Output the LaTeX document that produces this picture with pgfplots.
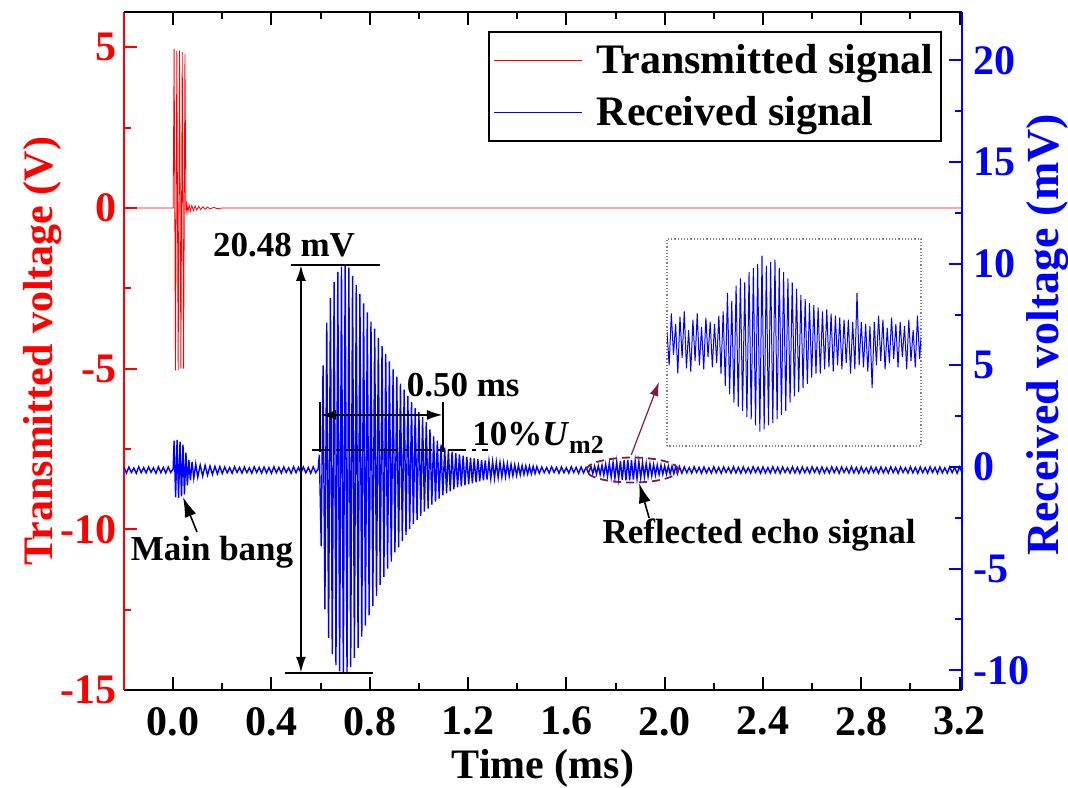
\documentclass[border=0pt]{standalone}
\usepackage{fontspec}
\setmainfont{Liberation Serif}
\usepackage{pgfplots}
\pgfplotsset{compat=1.18}
\usetikzlibrary{arrows.meta}
\definecolor{echoc}{RGB}{122,30,70}
\newcommand{\lf}{\fontsize{21}{25}\selectfont\bfseries}
\newcommand{\af}{\fontsize{17.5}{21}\selectfont\bfseries}

\pgfplotsset{
  mybase/.style={
    scale only axis, width=419pt, height=339pt,
    xmin=-0.2, xmax=3.21,
    tick align=inside,
    major tick length=6.5pt, minor tick length=3.5pt,
    xtick={0,0.4,0.8,1.2,1.6,2.0,2.4,2.8,3.2},
    minor x tick num=1, minor y tick num=1,
    ticklabel style={font=\lf},
    xtick style={black, line width=1pt},
    x axis line style={black, line width=1pt},
  }
}

\begin{document}
\begin{tikzpicture}
\useasboundingbox (-62pt,-48.5pt) rectangle (472pt,345pt);

% transmitted signal, left axis
\begin{axis}[mybase,
  ymin=-15, ymax=6.1,
  axis x line*=bottom, axis y line*=left,
  y axis line style={red, line width=1.2pt},
  ytick style={red, line width=1pt},
  ytick={-15,-10,-5,0,5}, yticklabels={-15,-10,-5,0,5},
  xticklabels={0.0,0.4,0.8,1.2,1.6,2.0,2.4,2.8,3.2},
  yticklabel style={red},
  xticklabel style={yshift=-5pt},
  xlabel={Time (ms)}, ylabel={Transmitted voltage (V)},
  xlabel style={font=\lf, at={(axis description cs:0.5,0)}, anchor=base, yshift=-44pt},
  ylabel style={font=\lf, red, at={([xshift=-40.5pt]axis description cs:0,0.5)}, anchor=center},
]
\addplot[red, line width=0.4pt] coordinates {
(-0.2,0)(0.0,0)(0.004,4.95)(0.0095,-5.05)(0.015,4.9)(0.0205,-5.05)(0.026,4.9)(0.0315,-5.0)
(0.037,4.85)(0.0425,-5.0)(0.048,4.8)(0.052,-0.2)(0.056,0.12)(0.060,-0.12)(0.065,0.1)(0.070,-0.1)
(0.076,0.08)(0.082,-0.08)(0.089,0.06)(0.096,-0.06)(0.104,0.05)(0.112,-0.05)(0.121,0.04)(0.130,-0.04)
(0.140,0.03)(0.150,-0.03)(0.165,0.02)(0.18,-0.02)(0.2,0)(3.21,0)
};
\end{axis}

% received signal, right axis
\begin{axis}[mybase,
  ymin=-10.97, ymax=22.38,
  axis x line*=top, axis y line*=right,
  y axis line style={blue, line width=1.2pt},
  ytick style={blue, line width=1pt},
  ytick={-10,-5,0,5,10,15,20}, yticklabels={-10,-5,0,5,10,15,20},
  xticklabels={},
  yticklabel style={blue, xshift=2pt},
  ylabel={Received voltage (mV)},
  ylabel style={font=\fontsize{23}{27}\selectfont\bfseries, blue, at={([xshift=43pt,yshift=8pt]axis description cs:1,0.5)}, anchor=center},
  legend style={at={(0.976,0.972)}, anchor=north east, draw=black, line width=0.8pt,
    font=\lf, inner xsep=2pt, inner ysep=4.25pt, row sep=6pt, nodes={inner sep=2pt},
    /tikz/every odd column/.append style={column sep=5pt}},
  legend cell align=left,
  legend image code/.code={\draw[#1] (0pt,0pt) -- (44pt,0pt);},
]
\addlegendimage{red, line width=0.6pt}
\addlegendentry{Transmitted signal}
\addlegendimage{blue, line width=0.7pt}
\addlegendentry{Received signal}
\addplot[blue, line width=0.7pt, forget plot] coordinates {
(-0.20,-0.02)(-0.19,-0.30)(-0.18,0.00)(-0.17,-0.27)(-0.16,-0.05)(-0.15,-0.31)(-0.14,0.01)(-0.13,-0.28)(-0.12,-0.03)(-0.11,-0.29)
(-0.10,0.00)(-0.09,-0.26)(-0.08,-0.04)(-0.07,-0.31)(-0.06,0.01)(-0.05,-0.28)(-0.04,-0.02)(-0.03,-0.30)(-0.02,0.00)(-0.01,-0.27)
(0.000,-0.1)(0.004,1.3)(0.010,-1.5)(0.016,1.33)(0.022,-1.52)(0.028,1.25)(0.034,-1.45)(0.040,1.1)(0.046,-1.35)(0.052,0.7)
(0.058,-0.9)(0.064,0.35)(0.070,-0.65)(0.077,0.25)(0.084,-0.55)(0.092,0.15)(0.100,-0.5)(0.110,0.1)(0.120,-0.45)(0.130,0.08)
(0.140,-0.4)(0.150,0.05)(0.160,-0.37)(0.170,0.03)(0.180,-0.34)
(0.19,0.02)(0.20,-0.32)(0.21,0.00)(0.22,-0.29)(0.23,-0.03)(0.24,-0.31)(0.25,0.01)(0.26,-0.27)(0.27,-0.02)(0.28,-0.30)
(0.29,0.00)(0.30,-0.28)(0.31,-0.04)(0.32,-0.31)(0.33,0.01)(0.34,-0.27)(0.35,-0.02)(0.36,-0.30)(0.37,0.00)(0.38,-0.29)
(0.39,-0.03)(0.40,-0.31)(0.41,0.01)(0.42,-0.28)(0.43,-0.02)(0.44,-0.30)(0.45,0.00)(0.46,-0.27)(0.47,-0.04)(0.48,-0.31)
(0.49,0.01)(0.50,-0.28)(0.51,-0.02)(0.52,-0.30)(0.53,0.00)(0.54,-0.29)(0.55,-0.03)(0.56,-0.31)(0.57,0.01)(0.58,-0.28)(0.59,-0.1)
(0.595,0.6)(0.6025,-3.9)(0.61,5.0)(0.6175,-7.0)(0.625,7.1)(0.6325,-8.4)(0.64,8.3)(0.6475,-9.2)(0.655,9.1)(0.6625,-9.75)
(0.67,9.6)(0.6775,-10.05)(0.685,9.85)(0.6925,-10.15)(0.70,9.95)(0.7075,-10.12)(0.715,9.8)(0.7225,-9.85)(0.73,9.4)(0.7375,-9.4)
(0.745,8.95)(0.7525,-8.9)(0.76,8.5)(0.7675,-8.35)(0.775,8.05)(0.7825,-7.8)(0.79,7.6)(0.7975,-7.3)(0.805,7.15)(0.8125,-6.85)
(0.82,6.8)(0.8275,-6.35)(0.835,6.35)(0.8425,-5.8)(0.85,5.95)(0.8575,-5.4)(0.865,5.55)(0.8725,-5.0)(0.88,5.2)(0.8875,-4.65)
(0.895,4.8)(0.9025,-4.2)(0.91,4.45)(0.9175,-3.95)(0.925,4.1)(0.9325,-3.65)(0.94,3.8)(0.9475,-3.35)(0.955,3.5)(0.9625,-3.05)
(0.97,3.2)(0.9775,-2.8)(0.985,2.9)(0.9925,-2.6)(1.0,2.7)(1.0075,-2.4)(1.015,2.45)(1.0225,-2.2)(1.03,2.2)(1.0375,-2.05)
(1.045,1.85)(1.0525,-1.85)(1.06,1.5)(1.0675,-1.7)(1.075,1.3)(1.0825,-1.55)(1.09,1.1)(1.0975,-1.4)(1.105,0.95)(1.1125,-1.3)
(1.12,0.85)(1.1275,-1.2)(1.135,0.75)(1.1425,-1.1)(1.15,0.68)(1.1575,-1.0)(1.165,0.62)(1.1725,-0.95)(1.18,0.56)(1.1875,-0.9)
(1.195,0.5)(1.2025,-0.85)(1.21,0.46)(1.2175,-0.8)(1.225,0.42)(1.2325,-0.75)(1.24,0.38)(1.2475,-0.7)(1.255,0.35)(1.2625,-0.66)
(1.27,0.32)(1.2775,-0.62)(1.285,0.29)(1.2925,-0.58)(1.30,0.26)(1.3075,-0.55)(1.315,0.24)(1.3225,-0.52)(1.33,0.22)(1.3375,-0.5)
(1.345,0.19)(1.3525,-0.47)(1.36,0.16)(1.3675,-0.45)(1.375,0.13)(1.3825,-0.43)(1.39,0.11)(1.3975,-0.41)(1.405,0.09)(1.4125,-0.39)
(1.42,0.07)(1.4275,-0.37)(1.435,0.05)(1.4425,-0.35)(1.45,0.04)(1.4575,-0.34)(1.465,0.03)(1.4725,-0.33)
(1.48,0.02)(1.49,-0.31)(1.50,0.00)(1.51,-0.28)(1.52,-0.03)(1.53,-0.30)(1.54,0.01)(1.55,-0.27)(1.56,-0.02)(1.57,-0.31)
(1.58,0.00)(1.59,-0.28)(1.60,-0.04)(1.61,-0.30)(1.62,0.01)(1.63,-0.27)(1.64,-0.02)(1.65,-0.31)(1.66,0.00)(1.67,-0.29)
(1.68,-0.03)(1.69,-0.30)
(1.7000,0.03)(1.7075,-0.33)(1.7150,0.04)(1.7225,-0.35)(1.7300,0.06)(1.7375,-0.37)(1.7450,0.09)(1.7525,-0.40)(1.7600,0.13)(1.7675,-0.45)
(1.7750,0.18)(1.7825,-0.50)(1.7900,0.22)(1.7975,-0.55)(1.8050,0.26)(1.8125,-0.60)(1.8200,0.30)(1.8275,-0.63)(1.8350,0.33)(1.8425,-0.65)
(1.8500,0.35)(1.8575,-0.65)(1.8650,0.33)(1.8725,-0.62)(1.8800,0.30)(1.8875,-0.58)(1.8950,0.26)(1.9025,-0.54)(1.9100,0.22)(1.9175,-0.50)
(1.9250,0.18)(1.9325,-0.46)(1.9400,0.15)(1.9475,-0.43)(1.9550,0.12)(1.9625,-0.40)(1.9700,0.10)(1.9775,-0.38)(1.9850,0.08)(1.9925,-0.36)
(2.0000,0.06)(2.0075,-0.35)(2.0150,0.05)(2.0225,-0.34)(2.0300,0.04)(2.0375,-0.33)(2.0450,0.03)(2.0525,-0.32)(2.0600,0.02)
(2.07,-0.31)(2.08,0.00)(2.09,-0.28)(2.10,-0.03)(2.11,-0.30)(2.12,0.01)(2.13,-0.27)(2.14,-0.02)(2.15,-0.31)(2.16,0.00)
(2.17,-0.29)(2.18,-0.04)(2.19,-0.30)(2.20,0.01)(2.21,-0.28)(2.22,-0.02)(2.23,-0.31)(2.24,0.00)(2.25,-0.27)(2.26,-0.03)
(2.27,-0.30)(2.28,0.01)(2.29,-0.29)(2.30,-0.02)(2.31,-0.31)(2.32,0.00)(2.33,-0.28)(2.34,-0.04)(2.35,-0.30)(2.36,0.01)
(2.37,-0.27)(2.38,-0.02)(2.39,-0.31)(2.40,0.00)(2.41,-0.29)(2.42,-0.03)(2.43,-0.30)(2.44,0.01)(2.45,-0.28)(2.46,-0.02)
(2.47,-0.31)(2.48,0.00)(2.49,-0.27)(2.50,-0.04)(2.51,-0.30)(2.52,0.01)(2.53,-0.29)(2.54,-0.02)(2.55,-0.31)(2.56,0.00)
(2.57,-0.28)(2.58,-0.03)(2.59,-0.30)(2.60,0.01)(2.61,-0.27)(2.62,-0.02)(2.63,-0.31)(2.64,0.00)(2.65,-0.29)(2.66,-0.04)
(2.67,-0.30)(2.68,0.01)(2.69,-0.28)(2.70,-0.02)(2.71,-0.31)(2.72,0.00)(2.73,-0.27)(2.74,-0.03)(2.75,-0.30)(2.76,0.01)
(2.77,-0.29)(2.78,-0.02)(2.79,-0.31)(2.80,0.00)(2.81,-0.28)(2.82,-0.04)(2.83,-0.30)(2.84,0.01)(2.85,-0.27)(2.86,-0.02)
(2.87,-0.31)(2.88,0.00)(2.89,-0.29)(2.90,-0.03)(2.91,-0.30)(2.92,0.01)(2.93,-0.28)(2.94,-0.02)(2.95,-0.31)(2.96,0.00)
(2.97,-0.27)(2.98,-0.04)(2.99,-0.30)(3.00,0.01)(3.01,-0.29)(3.02,-0.02)(3.03,-0.31)(3.04,0.00)(3.05,-0.28)(3.06,-0.03)
(3.07,-0.30)(3.08,0.01)(3.09,-0.27)(3.10,-0.02)(3.11,-0.31)(3.12,0.00)(3.13,-0.29)(3.14,-0.04)(3.15,-0.30)(3.16,0.01)
(3.17,-0.28)(3.18,-0.02)(3.19,-0.31)(3.20,0.00)(3.21,-0.27)
};

% annotations
\draw[line width=1.2pt] (axis cs:0.480,9.94) -- (axis cs:0.842,9.94);
\draw[line width=1.2pt] (axis cs:0.455,-10.13) -- (axis cs:0.813,-10.13);
\draw[line width=1.2pt, {Latex[length=8pt,width=5pt]}-{Latex[length=8pt,width=5pt]}] (axis cs:0.520,9.94) -- (axis cs:0.520,-10.13);
\node[font=\af] at (axis cs:0.451,10.92) {20.48 mV};
\draw[line width=1.2pt, dash pattern=on 9pt off 3pt on 2pt off 3pt] (axis cs:0.565,0.84) -- (axis cs:1.281,0.84);
\draw[line width=1.2pt] (axis cs:0.598,3.2) -- (axis cs:0.598,0.74);
\draw[line width=1.2pt] (axis cs:1.098,3.2) -- (axis cs:1.098,0.74);
\draw[line width=1.2pt, {Latex[length=8pt,width=5pt]}-{Latex[length=8pt,width=5pt]}] (axis cs:0.598,2.56) -- (axis cs:1.098,2.56);
\node[font=\af] at (axis cs:1.180,4.03) {0.50 ms};
\node[font=\af, anchor=base west, inner sep=0pt] at (axis cs:1.216,1.08) {10\%\textit{U}\raisebox{-0.25em}{\fontsize{13}{13}\selectfont m2}};
\node[font=\af] at (axis cs:0.158,-4.21) {Main bang};
\draw[line width=0.8pt, -{Latex[length=10pt,width=6pt]}] (axis cs:0.097,-3.2) -- (axis cs:0.040,-1.48);
\node[font=\af] at (axis cs:2.384,-3.34) {Reflected echo signal};
\draw[line width=0.8pt, -{Latex[length=10pt,width=6pt]}] (axis cs:1.937,-2.51) -- (axis cs:1.896,-0.79);
\draw[echoc, line width=0.9pt, dash pattern=on 4pt off 2.5pt] (axis cs:1.868,-0.15) ellipse [x radius=23pt, y radius=6.25pt];
\draw[echoc, line width=0.6pt, -{Latex[length=7pt,width=4.5pt]}] (axis cs:1.864,0.59) -- (axis cs:1.977,4.18);
\end{axis}

% inset: enlarged echo
\begin{axis}[at={(271.5pt,122pt)}, anchor=south west,
  scale only axis, width=127pt, height=103.5pt,
  xmin=0, xmax=1, ymin=-1, ymax=1,
  xtick=\empty, ytick=\empty,
  axis line style={gray, densely dotted, line width=0.6pt},
]
\addplot[blue, line width=0.5pt] coordinates {
(0.000,0.10)(0.0085,-0.22)(0.017,0.28)(0.0255,-0.12)(0.034,0.18)(0.0425,-0.30)(0.051,0.25)(0.0595,-0.15)(0.068,0.30)(0.0765,-0.25)
(0.085,0.12)(0.0935,-0.28)(0.102,0.22)(0.1105,-0.18)(0.119,0.28)(0.1275,-0.22)(0.136,0.15)(0.1445,-0.26)(0.153,0.24)(0.1615,-0.14)
(0.170,0.20)(0.1785,-0.24)(0.187,0.18)(0.1955,-0.20)(0.204,0.26)(0.2125,-0.30)(0.221,0.30)(0.2295,-0.42)(0.238,0.48)(0.2465,-0.50)
(0.255,0.40)(0.2635,-0.58)(0.272,0.55)(0.2805,-0.62)(0.289,0.62)(0.2975,-0.66)(0.306,0.58)(0.3145,-0.72)(0.323,0.68)(0.3315,-0.74)
(0.340,0.72)(0.3485,-0.80)(0.357,0.76)(0.3655,-0.86)(0.374,0.84)(0.3825,-0.84)(0.391,0.74)(0.3995,-0.80)(0.408,0.78)(0.4165,-0.78)
(0.425,0.80)(0.4335,-0.74)(0.442,0.72)(0.4505,-0.70)(0.459,0.68)(0.4675,-0.66)(0.476,0.62)(0.4845,-0.58)(0.493,0.58)(0.5015,-0.52)
(0.510,0.52)(0.5185,-0.48)(0.527,0.46)(0.5355,-0.44)(0.544,0.42)(0.5525,-0.40)(0.561,0.38)(0.5695,-0.34)(0.578,0.36)(0.5865,-0.30)
(0.595,0.34)(0.6035,-0.30)(0.612,0.30)(0.6205,-0.26)(0.629,0.32)(0.6375,-0.24)(0.646,0.28)(0.6545,-0.28)(0.663,0.26)(0.6715,-0.22)
(0.680,0.24)(0.6885,-0.26)(0.697,0.22)(0.7055,-0.20)(0.714,0.22)(0.7225,-0.30)(0.731,0.20)(0.7395,-0.26)(0.748,0.48)(0.7565,-0.22)
(0.765,0.20)(0.7735,-0.24)(0.782,0.18)(0.7905,-0.28)(0.799,0.16)(0.8075,-0.44)(0.816,0.20)(0.8245,-0.22)(0.833,0.26)(0.8415,-0.18)
(0.850,0.22)(0.8585,-0.26)(0.867,0.14)(0.8755,-0.20)(0.884,0.24)(0.8925,-0.16)(0.901,0.18)(0.9095,-0.24)(0.918,0.20)(0.9265,-0.14)
(0.935,0.16)(0.9435,-0.26)(0.952,0.22)(0.9605,-0.18)(0.969,0.12)(0.9775,-0.24)(0.986,0.26)(0.9945,-0.16)(1.000,0.05)
};
\end{axis}
\end{tikzpicture}
\end{document}
